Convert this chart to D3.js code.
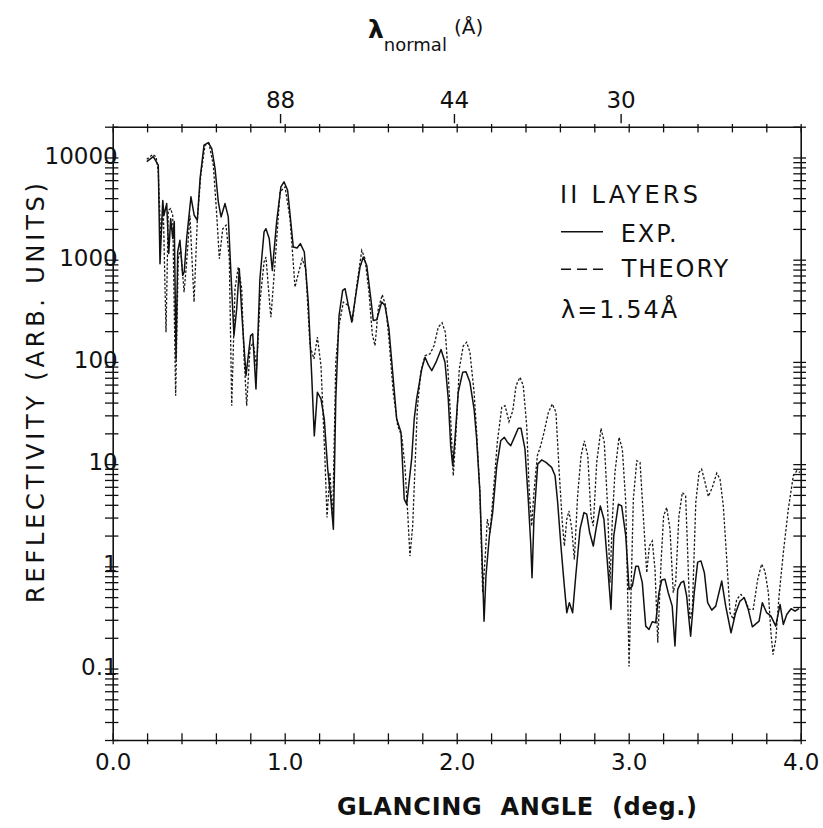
<!DOCTYPE html>
<html><head><meta charset="utf-8">
<script src="https://cdn.jsdelivr.net/npm/d3@7"></script>
<style>body{margin:0;background:#fff}text{font-family:"DejaVu Sans",sans-serif;fill:#111}</style>
</head><body>
<svg id="c" width="823" height="828"></svg>
<script>
// ---- data ----
const expData = [[0.198,9100],[0.236,10200],[0.265,8400],[0.275,914],[0.291,3800],[0.298,2720],[0.314,3540],[0.326,1150],[0.337,2520],[0.349,1610],[0.358,2360],[0.368,107],[0.378,1200],[0.391,1550],[0.407,700],[0.416,763],[0.430,1610],[0.455,4120],[0.474,2720],[0.492,2430],[0.508,6220],[0.531,13200],[0.556,14000],[0.576,12200],[0.595,7800],[0.614,3680],[0.630,2620],[0.653,3540],[0.672,2620],[0.688,702],[0.705,181],[0.721,331],[0.736,816],[0.750,307],[0.775,73.4],[0.802,181],[0.814,188],[0.833,54.4],[0.856,651],[0.880,1870],[0.891,2010],[0.910,1610],[0.928,785],[0.953,2340],[0.978,5160],[0.996,5780],[1.017,4780],[1.050,1330],[1.072,1300],[1.091,1435],[1.114,1190],[1.137,385],[1.157,73.4],[1.172,18.9],[1.190,50.5],[1.211,43.4],[1.230,27.6],[1.250,8.93],[1.265,5.28],[1.283,2.31],[1.297,43.4],[1.316,284],[1.337,500],[1.351,520],[1.370,356],[1.390,245],[1.413,447],[1.438,848],[1.457,1060],[1.477,879],[1.502,399],[1.515,254],[1.535,258],[1.564,385],[1.583,356],[1.606,211],[1.631,68.1],[1.651,27.6],[1.676,20.5],[1.695,4.54],[1.709,4.05],[1.738,11.2],[1.753,27.6],[1.767,43.4],[1.797,85.4],[1.816,111],[1.835,93.5],[1.855,82.2],[1.880,99.3],[1.909,132],[1.932,99.3],[1.951,43.4],[1.965,15.1],[1.977,9.62],[1.990,17.6],[2.009,50.5],[2.035,79.3],[2.054,80.3],[2.077,63.2],[2.101,34.6],[2.116,17.6],[2.135,5.28],[2.151,0.80],[2.159,0.291],[2.170,0.80],[2.190,1.98],[2.209,3.36],[2.233,9.62],[2.256,16.9],[2.277,18.3],[2.294,16.5],[2.314,15.1],[2.339,18.9],[2.358,22.4],[2.374,22.4],[2.397,14.0],[2.416,4.54],[2.430,1.71],[2.438,0.775],[2.449,2.89],[2.471,10.0],[2.494,11.0],[2.519,10.4],[2.552,9.29],[2.572,7.68],[2.587,4.21],[2.606,1.58],[2.624,0.692],[2.640,0.352],[2.655,0.441],[2.674,0.352],[2.692,0.80],[2.717,2.31],[2.740,3.36],[2.756,3.24],[2.773,2.14],[2.794,1.58],[2.810,2.31],[2.835,3.90],[2.856,2.89],[2.876,1.09],[2.897,0.379],[2.913,1.98],[2.940,4.05],[2.959,3.90],[2.983,1.98],[3.002,0.595],[3.021,0.641],[3.041,1.0],[3.056,1.0],[3.079,0.692],[3.099,0.260],[3.118,0.241],[3.137,0.287],[3.157,0.281],[3.176,0.552],[3.192,0.734],[3.211,0.746],[3.230,0.552],[3.253,0.408],[3.269,0.166],[3.285,0.595],[3.304,0.692],[3.320,0.718],[3.337,0.512],[3.360,0.207],[3.381,0.552],[3.401,1.10],[3.420,1.13],[3.440,0.867],[3.459,0.441],[3.483,0.373],[3.506,0.408],[3.541,0.718],[3.564,0.408],[3.595,0.224],[3.622,0.352],[3.647,0.457],[3.672,0.493],[3.695,0.379],[3.719,0.256],[3.758,0.291],[3.777,0.441],[3.802,0.352],[3.827,0.326],[3.855,0.260],[3.880,0.424],[3.899,0.270],[3.919,0.338],[3.944,0.385],[3.967,0.364],[3.990,0.385]];

const theoryData = [[0.198,9620],[0.233,10700],[0.252,10160],[0.265,7240],[0.279,1610],[0.294,3160],[0.310,195],[0.323,3040],[0.337,3160],[0.349,2720],[0.366,46.7],[0.381,1020],[0.395,1280],[0.415,482],[0.430,949],[0.449,2720],[0.473,385],[0.492,2430],[0.512,6700],[0.537,13200],[0.560,13700],[0.585,8410],[0.605,2720],[0.620,1020],[0.640,2010],[0.659,2170],[0.678,1020],[0.692,37.3],[0.711,520],[0.730,848],[0.750,520],[0.763,115],[0.779,37.3],[0.798,134],[0.817,156],[0.837,85.4],[0.856,385],[0.880,949],[0.891,1060],[0.915,331],[0.920,274],[0.944,949],[0.973,4610],[1.002,5160],[1.031,2520],[1.060,540],[1.079,729],[1.102,1020],[1.122,816],[1.147,144],[1.170,107],[1.190,175],[1.211,92],[1.234,11.2],[1.246,3.0],[1.263,8.29],[1.279,2.89],[1.297,99.3],[1.316,227],[1.341,385],[1.370,356],[1.393,245],[1.419,560],[1.448,1230],[1.467,1020],[1.490,482],[1.509,188],[1.525,144],[1.544,331],[1.567,454],[1.587,356],[1.606,168],[1.631,50.5],[1.657,23.7],[1.680,18.9],[1.699,9.62],[1.715,3.36],[1.728,1.26],[1.744,2.48],[1.758,9.62],[1.771,34.6],[1.791,79.3],[1.816,115],[1.845,120],[1.868,144],[1.893,219],[1.915,241],[1.934,195],[1.951,73.4],[1.965,27.6],[1.980,7.68],[1.996,20.5],[2.015,85.4],[2.038,143],[2.058,156],[2.077,124],[2.101,50.5],[2.116,20.5],[2.135,5.28],[2.151,0.552],[2.165,1.17],[2.178,2.89],[2.194,2.14],[2.213,5.28],[2.236,16.3],[2.262,35.9],[2.281,37.3],[2.304,26.0],[2.326,33.3],[2.345,58.6],[2.368,70.8],[2.387,58.6],[2.407,23.7],[2.422,5.28],[2.436,2.48],[2.449,5.28],[2.469,12.1],[2.488,15.1],[2.508,20.5],[2.533,32.1],[2.556,38.7],[2.577,32.1],[2.595,8.93],[2.614,2.68],[2.626,1.58],[2.640,2.89],[2.653,3.48],[2.669,2.31],[2.684,1.17],[2.703,4.89],[2.723,12.1],[2.742,16.9],[2.762,12.1],[2.781,3.11],[2.794,2.48],[2.814,10.4],[2.839,22.4],[2.858,16.3],[2.878,3.62],[2.891,0.692],[2.905,2.89],[2.920,8.29],[2.944,18.3],[2.963,14.0],[2.983,4.21],[2.998,0.241],[3.002,0.105],[3.013,0.512],[3.027,4.54],[3.047,10.8],[3.066,10.4],[3.085,3.11],[3.105,0.867],[3.120,1.58],[3.137,1.77],[3.153,0.934],[3.169,0.179],[3.188,1.09],[3.203,3.11],[3.221,3.76],[3.240,2.31],[3.259,0.552],[3.273,0.692],[3.292,3.11],[3.312,5.28],[3.331,4.89],[3.343,1.36],[3.356,0.302],[3.370,0.379],[3.390,4.21],[3.409,8.29],[3.424,8.93],[3.444,6.62],[3.463,4.82],[3.486,5.91],[3.512,8.16],[3.531,7.13],[3.550,3.90],[3.570,1.17],[3.589,0.352],[3.608,0.302],[3.628,0.475],[3.653,0.531],[3.676,0.475],[3.699,0.379],[3.724,0.379],[3.750,0.746],[3.773,1.05],[3.792,0.899],[3.812,0.552],[3.827,0.224],[3.839,0.137],[3.855,0.192],[3.874,0.512],[3.899,1.36],[3.928,3.62],[3.957,7.68],[3.977,8.60],[3.996,8.29]];

const xTickValues = [0, 1, 2, 3, 4];
const xTickLabels = ["0.0", "1.0", "2.0", "3.0", "4.0"];
const yTickValues = [0.1, 1, 10, 100, 1000, 10000];
const yTickLabels = ["0.1", "1", "10", "100", "1000", "10000"];
const topTickLabels = ["88", "44", "30"];
const topTickAngles = [0.973, 1.984, 2.953];
const legendTitle = "II LAYERS";
const seriesNames = ["EXP.", "THEORY"];
const legendNote = "λ=1.54Å";
const xTitle = "GLANCING  ANGLE  (deg.)";
const yTitle = "REFLECTIVITY (ARB. UNITS)";

// ---- layout ----
const m = {left: 112.7, right: 800.7, top: 126.7, bottom: 740};
const svg = d3.select("#c");
const x = d3.scaleLinear().domain([0, 4]).range([m.left, m.right]);
const y = d3.scaleLog().domain([0.02, 20000]).range([m.bottom, m.top]);

const minorX = d3.range(0, 4.001, 0.2).map(v => +v.toFixed(1));
const minorY = [];
[0.01, 0.1, 1, 10, 100, 1000, 10000].forEach(d => { for (let k = 1; k <= 9; k++) { const v = +(d * k).toPrecision(3); if (v >= 0.02 && v <= 20000) minorY.push(v); } });

function styleAxis(g) {
  g.select(".domain").attr("stroke", "#111").attr("stroke-width", 1.6);
  g.selectAll(".tick line").attr("stroke", "#111").attr("stroke-width", 1.3);
}

// bottom ticks
const gb = svg.append("g").attr("transform", `translate(0,${m.bottom})`)
  .call(d3.axisBottom(x).tickValues(minorX).tickSizeInner(-6.7).tickSizeOuter(0).tickFormat(""));
gb.selectAll(".tick line").attr("y1", 4.3);
styleAxis(gb);
const gbl = svg.append("g").attr("transform", `translate(0,${m.bottom})`)
  .call(d3.axisBottom(x).tickValues(xTickValues).tickSize(0).tickPadding(13.7).tickFormat((d, i) => xTickLabels[i]));
gbl.select(".domain").remove();
gbl.selectAll("text").attr("font-size", 23).attr("font-family", "DejaVu Sans");

// top ticks
const gt = svg.append("g").attr("transform", `translate(0,${m.top})`)
  .call(d3.axisTop(x).tickValues(minorX).tickSizeInner(-5.7).tickSizeOuter(0).tickFormat(""));
gt.selectAll(".tick line").attr("y1", -2.7);
styleAxis(gt);
const gtl = svg.append("g").attr("transform", `translate(0,${m.top})`)
  .call(d3.axisTop(x).tickValues(topTickAngles).tickSize(12.7).tickPadding(6).tickFormat((d, i) => topTickLabels[i]));
gtl.select(".domain").remove();
gtl.selectAll(".tick line").attr("y1", -3.4).attr("stroke", "#111").attr("stroke-width", 1.4);
gtl.selectAll("text").attr("font-size", 23).attr("font-family", "DejaVu Sans");

// left ticks
const gl = svg.append("g").attr("transform", `translate(${m.left},0)`)
  .call(d3.axisLeft(y).tickValues(minorY).tickSizeInner(-5.7).tickSizeOuter(0).tickFormat(""));
gl.selectAll(".tick line").attr("x1", -7.7);
styleAxis(gl);
const gll = svg.append("g").attr("transform", `translate(${m.left},0)`)
  .call(d3.axisLeft(y).tickValues(yTickValues).tickSize(0).tickPadding(-5).tickFormat((d, i) => yTickLabels[i]));
gll.select(".domain").remove();
gll.selectAll("text").attr("font-size", 23).attr("font-family", "DejaVu Sans").attr("dy", "0.24em");

// right ticks
const gr = svg.append("g").attr("transform", `translate(${m.right},0)`)
  .call(d3.axisRight(y).tickValues(minorY).tickSizeInner(-7.4).tickSizeOuter(0).tickFormat(""));
gr.selectAll(".tick line").attr("x1", 5.3);
styleAxis(gr);

// curves
svg.append("clipPath").attr("id", "clip").append("rect")
  .attr("x", m.left).attr("y", m.top).attr("width", m.right - m.left).attr("height", m.bottom - m.top);
const line = d3.line().x(d => x(d[0])).y(d => y(d[1]));
svg.append("path").datum(theoryData).attr("d", line).attr("clip-path", "url(#clip)")
  .attr("fill", "none").attr("stroke", "#1a1a1a").attr("stroke-width", 1.3).attr("stroke-dasharray", "2.5,1.8");
svg.append("path").datum(expData).attr("d", line).attr("clip-path", "url(#clip)")
  .attr("fill", "none").attr("stroke", "#111").attr("stroke-width", 1.5).attr("stroke-linejoin", "round");

// legend
const lg = svg.append("g").attr("font-size", 24).attr("letter-spacing", 2);
lg.append("text").attr("x", 560).attr("y", 202.7).attr("textLength", 140).attr("lengthAdjust", "spacing").text(legendTitle);
lg.append("line").attr("x1", 561).attr("x2", 603).attr("y1", 231.7).attr("y2", 231.7).attr("stroke", "#111").attr("stroke-width", 1.5);
lg.append("text").attr("x", 620.7).attr("y", 241.7).text(seriesNames[0]);
lg.append("line").attr("x1", 561).attr("x2", 603).attr("y1", 269.3).attr("y2", 269.3).attr("stroke", "#111").attr("stroke-width", 1.5).attr("stroke-dasharray", "10,6");
lg.append("text").attr("x", 621.7).attr("y", 277.3).text(seriesNames[1]);
lg.append("text").attr("x", 561).attr("y", 318.3).text(legendNote);

// axis titles
svg.append("text").attr("x", 517).attr("y", 815).attr("text-anchor", "middle")
  .attr("font-size", 24).attr("font-weight", "bold").attr("textLength", 360).attr("lengthAdjust", "spacing")
  .style("white-space", "pre").text(xTitle);
svg.append("text").attr("transform", "translate(44,393) rotate(-90)").attr("text-anchor", "middle")
  .attr("font-size", 24).attr("textLength", 420).attr("lengthAdjust", "spacing").text(yTitle);

// top title
const tt = svg.append("text").attr("x", 368).attr("y", 38).attr("font-weight", "bold");
tt.append("tspan").attr("font-size", 25).text("λ");
tt.append("tspan").attr("font-size", 18).attr("font-weight", "normal").attr("dy", 13).text("normal");
tt.append("tspan").attr("font-size", 20).attr("font-weight", "normal").attr("dy", -17).attr("dx", 7).text("(Å)");
</script>
</body></html>
